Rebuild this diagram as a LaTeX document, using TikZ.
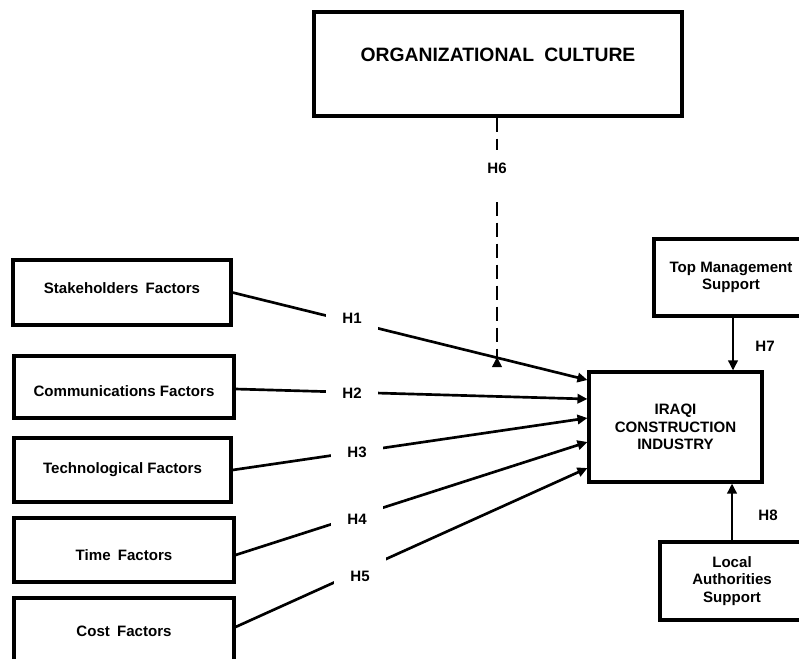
\documentclass[tikz,border=0pt]{standalone}
\usepackage{fontspec}
\setmainfont{Liberation Sans}
\usetikzlibrary{arrows.meta}
\begin{document}
\begin{tikzpicture}[x=0.75pt,y=-0.75pt,
  txt/.style={font=\bfseries\fontsize{11.3}{13.1}\selectfont},
  box/.style={txt, draw, line width=2.3pt, align=center, inner sep=0pt},
  hyp/.style={txt, inner sep=0pt},
  gap/.style={hyp, fill=white, minimum width=39pt, minimum height=30pt},
  tip/.style={-{Triangle[length=7.5pt,width=7pt]}},
  link/.style={line width=2pt, tip},
  modlink/.style={line width=2.1pt, dash pattern=on 10.5pt off 5.25pt},
]
\useasboundingbox (0,0) rectangle (799,658);
\clip (0,0) rectangle (799,658);

% moderating construct
\node[box, minimum width=276pt, minimum height=78pt,
      font=\bfseries\fontsize{14.5}{16}\selectfont] (org) at (498,64)
  {\raisebox{13.5pt}{ORGANIZATIONAL\hspace{0.25em} CULTURE}};

% independent factors
\node[box, minimum width=163.5pt, minimum height=48.75pt] (stake) at (122,292.5)
  {\raisebox{6.75pt}{Stakeholders\hspace{0.2em} Factors}};
\node[box, minimum width=165pt, minimum height=46.5pt] (comm) at (124,387)
  {\raisebox{-7pt}[0pt][0pt]{Communications Factors}};
\node[box, minimum width=162.75pt, minimum height=48pt] (tech) at (122.5,470)
  {Technological Factors};
\node[box, minimum width=165pt, minimum height=48pt] (time) at (124,550)
  {\raisebox{-7.75pt}[0pt][0pt]{Time\hspace{0.2em} Factors}};
\node[box, minimum width=165pt, minimum height=49.5pt] (cost) at (124,631)
  {Cost\hspace{0.2em} Factors};

% dependent construct
\node[box, minimum width=129.75pt, minimum height=82.5pt] (iraqi) at (675.5,427)
  {IRAQI\\CONSTRUCTION\\INDUSTRY};

% support constructs
\node[box, minimum width=115.5pt, minimum height=57.75pt] (top) at (731,277.5)
  {Top Management\\Support};
\node[box, minimum width=108pt, minimum height=58.5pt] (local) at (732,581)
  {Local\\Authorities\\Support};

% hypothesised paths H1--H5
\draw[link] (stake.east) -- (iraqi.west |- 0,380);
\draw[link] (comm.east |- 0,389) -- (iraqi.west |- 0,399);
\draw[link] (tech.east) -- (iraqi.west |- 0,418);
\draw[link] (time.east |- 0,555) -- (iraqi.west |- 0,442);
\draw[link] (cost.east |- 0,627) -- (iraqi.west |- 0,468);

\node[gap] (h1) at (352,318) {H1};
\node[gap] (h2) at (352,393) {H2};
\node[gap] (h3) at (357,452) {H3};
\node[gap] (h4) at (357,519) {H4};
\node[gap] (h5) at (360,576) {H5};

% moderating path H6
\coordinate (h6end) at (497,357);
\draw[modlink] (org.south -| h6end) -- (h6end);
\draw[line width=2pt, tip] ([yshift=-1pt]h6end) -- (h6end);
\node[hyp, fill=white, minimum width=30pt, minimum height=39pt] (h6) at (497,176)
  {\raisebox{12pt}{H6}};

% support paths H7, H8
\draw[link] ([xshift=1.5pt]top.south) -- ([xshift=1.5pt]iraqi.north -| top.south);
\draw[link] (local.north) -- (iraqi.south -| local.north);
\node[hyp] (h7) at (765,346) {H7};
\node[hyp] (h8) at (768,515) {H8};
\end{tikzpicture}
\end{document}
